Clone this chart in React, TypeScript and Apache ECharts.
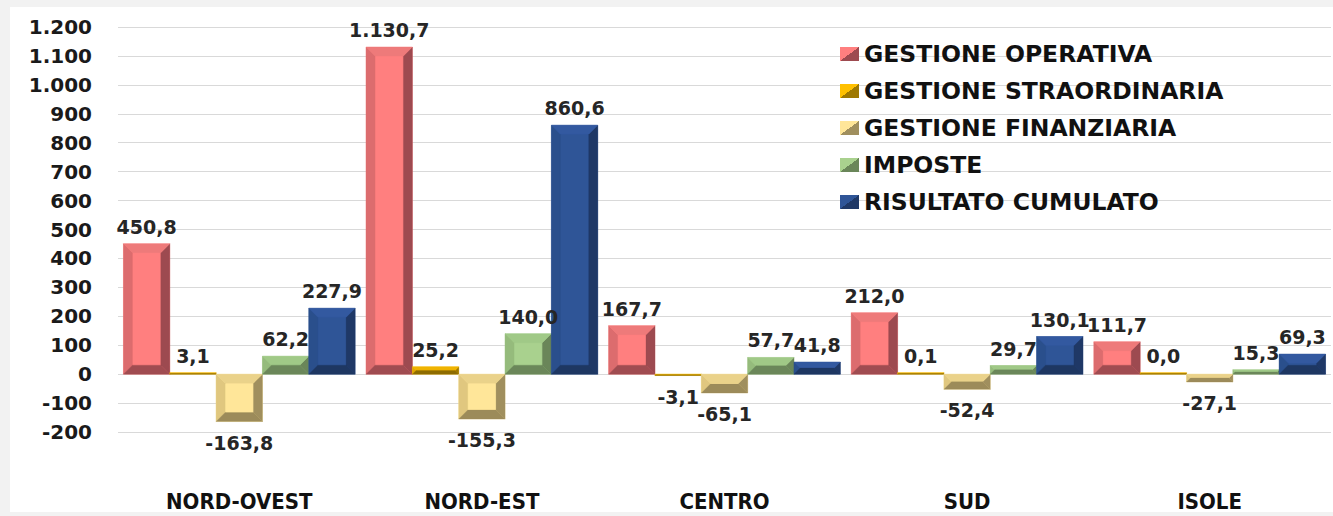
import React, { useEffect, useRef } from "react";
import * as echarts from "echarts";

// ---- data ----
const categories = ["NORD-OVEST", "NORD-EST", "CENTRO", "SUD", "ISOLE"];
const seriesNames = [
  "GESTIONE OPERATIVA",
  "GESTIONE STRAORDINARIA",
  "GESTIONE FINANZIARIA",
  "IMPOSTE",
  "RISULTATO CUMULATO",
];
const gestioneOperativa = [450.8, 1130.7, 167.7, 212.0, 111.7];
const gestioneStraordinaria = [3.1, 25.2, -3.1, 0.1, 0.0];
const gestioneFinanziaria = [-163.8, -155.3, -65.1, -52.4, -27.1];
const imposte = [62.2, 140.0, 57.7, 29.7, 15.3];
const risultatoCumulato = [227.9, 860.6, 41.8, 130.1, 69.3];
const seriesValues = [
  gestioneOperativa,
  gestioneStraordinaria,
  gestioneFinanziaria,
  imposte,
  risultatoCumulato,
];
const yMin = -200;
const yMax = 1200;
const yInterval = 100;

// ---- styles ----
type Pal = { face: string; left: string; right: string; top: string; bottom: string };
const palettes: Pal[] = [
  { face: "#FF7F7F", left: "#DC6C6E", right: "#9D4A50", top: "#EE7A7A", bottom: "#A04C51" },
  { face: "#FFC000", left: "#E0A800", right: "#9E7800", top: "#F0B400", bottom: "#8E6C00" },
  { face: "#FFE699", left: "#E0C77F", right: "#A08F5E", top: "#EAD28A", bottom: "#9C8B5A" },
  { face: "#A9D18E", left: "#95BB7C", right: "#6A8659", top: "#A0C987", bottom: "#6B875A" },
  { face: "#2F5597", left: "#2A4F8C", right: "#1F3866", top: "#3359A0", bottom: "#1E3762" },
];
const GROUP_FILL = 0.955;
const BEVEL = 9;
const LABEL_FONT = 'bold 19px "DejaVu Sans", Verdana, sans-serif';

function fmtIt(v: number, dec: number): string {
  const s = Math.abs(v).toFixed(dec);
  const parts = s.split(".");
  const intF = parts[0].replace(/\B(?=(\d{3})+(?!\d))/g, ".");
  const neg = v < 0 && Number(s) !== 0;
  return (neg ? "-" : "") + intF + (parts[1] ? "," + parts[1] : "");
}

function makeRenderItem(si: number, pal: Pal) {
  return (params: any, api: any) => {
    const ci = api.value(0) as number;
    const v = api.value(1) as number;
    const p0 = api.coord([ci, 0]);
    const p1 = api.coord([ci, v]);
    const band = (api.size([1, 0]) as number[])[0];
    const total = band * GROUP_FILL;
    const bw = total / seriesNames.length;
    const x0 = p0[0] - total / 2 + si * bw;
    const x1 = x0 + bw;
    let yA = Math.min(p0[1], p1[1]);
    let yB = Math.max(p0[1], p1[1]);
    if (yB - yA < 1.4) {
      if (v < 0) yB = yA + 1.4;
      else yA = yB - 1.4;
    }
    const h = yB - yA;
    const b = Math.min(BEVEL, h / 2, bw / 2);
    const poly = (pts: number[][], fill: string) => ({
      type: "polygon",
      shape: { points: pts },
      style: { fill, stroke: fill, lineWidth: 0.3 },
    });
    const children: any[] = [
      poly([[x0, yA], [x1, yA], [x1, yB], [x0, yB]], pal.face),
      poly([[x0, yA], [x0 + b, yA + b], [x0 + b, yB - b], [x0, yB]], pal.left),
      poly([[x1, yA], [x1, yB], [x1 - b, yB - b], [x1 - b, yA + b]], pal.right),
      poly([[x0, yA], [x1, yA], [x1 - b, yA + b], [x0 + b, yA + b]], pal.top),
      poly([[x0, yB], [x0 + b, yB - b], [x1 - b, yB - b], [x1, yB]], pal.bottom),
      {
        type: "text",
        z2: 100,
        x: (x0 + x1) / 2,
        y: v >= 0 ? yA - 17 : yB + 21,
        style: {
          text: fmtIt(v, 1),
          font: LABEL_FONT,
          fill: "#262626",
          align: "center",
          verticalAlign: "middle",
        },
      },
    ];
    return { type: "group", children };
  };
}

export default function App() {
  const ref = useRef<HTMLDivElement>(null);
  useEffect(() => {
    if (!ref.current) return;
    const chart = echarts.init(ref.current, undefined, { renderer: "svg" });
    const series = seriesNames.map((name, si) => {
      const pal = palettes[si];
      return {
        type: "custom",
        name,
        renderItem: makeRenderItem(si, pal),
        encode: { x: 0, y: 1 },
        clip: false,
        itemStyle: {
          color: new echarts.graphic.LinearGradient(0, 0, 1, 1, [
            { offset: 0, color: pal.face },
            { offset: 0.5, color: pal.face },
            { offset: 0.5, color: pal.right },
            { offset: 1, color: pal.right },
          ]),
        },
        data: seriesValues[si].map((v, ci) => [ci, v]),
      };
    });
    chart.setOption({
      animation: false,
      backgroundColor: "#ffffff",
      grid: { left: 108, right: 2, top: 20, bottom: 78, containLabel: false },
      legend: {
        data: seriesNames,
        orient: "vertical",
        left: 830,
        top: 35,
        padding: 0,
        icon: "rect",
        itemWidth: 19,
        itemHeight: 14,
        itemGap: 13,
        textStyle: {
          fontFamily: '"DejaVu Sans", Verdana, sans-serif',
          fontWeight: "bold",
          fontSize: 23.5,
          lineHeight: 20,
          color: "#111111",
        },
      },
      xAxis: {
        type: "category",
        data: categories,
        boundaryGap: true,
        axisLine: { show: false, onZero: false },
        axisTick: { show: false },
        splitLine: { show: false },
        axisLabel: {
          margin: 59,
          fontFamily: '"Liberation Sans Narrow", "DejaVu Sans Condensed", sans-serif',
          fontWeight: "bold",
          fontSize: 22,
          lineHeight: 20,
          color: "#111111",
        },
      },
      yAxis: {
        type: "value",
        min: yMin,
        max: yMax,
        interval: yInterval,
        axisLine: { show: false },
        axisTick: { show: false },
        splitLine: { lineStyle: { color: "#d9d9d9", width: 1 } },
        axisLabel: {
          margin: 26,
          formatter: (v: number) => fmtIt(v, 0),
          fontFamily: '"DejaVu Sans", Verdana, sans-serif',
          fontWeight: "bold",
          fontSize: 20,
          color: "#1a1a1a",
        },
      },
      series,
    });
    return () => chart.dispose();
  }, []);
  return (
    <div
      style={{
        position: "fixed",
        left: 0,
        top: 0,
        width: 1333,
        height: 516,
        background: "#f2f2f2",
        overflow: "hidden",
      }}
    >
      <div
        ref={ref}
        style={{ position: "absolute", left: 10, top: 7, width: 1323, height: 505, background: "#ffffff" }}
      />
    </div>
  );
}
